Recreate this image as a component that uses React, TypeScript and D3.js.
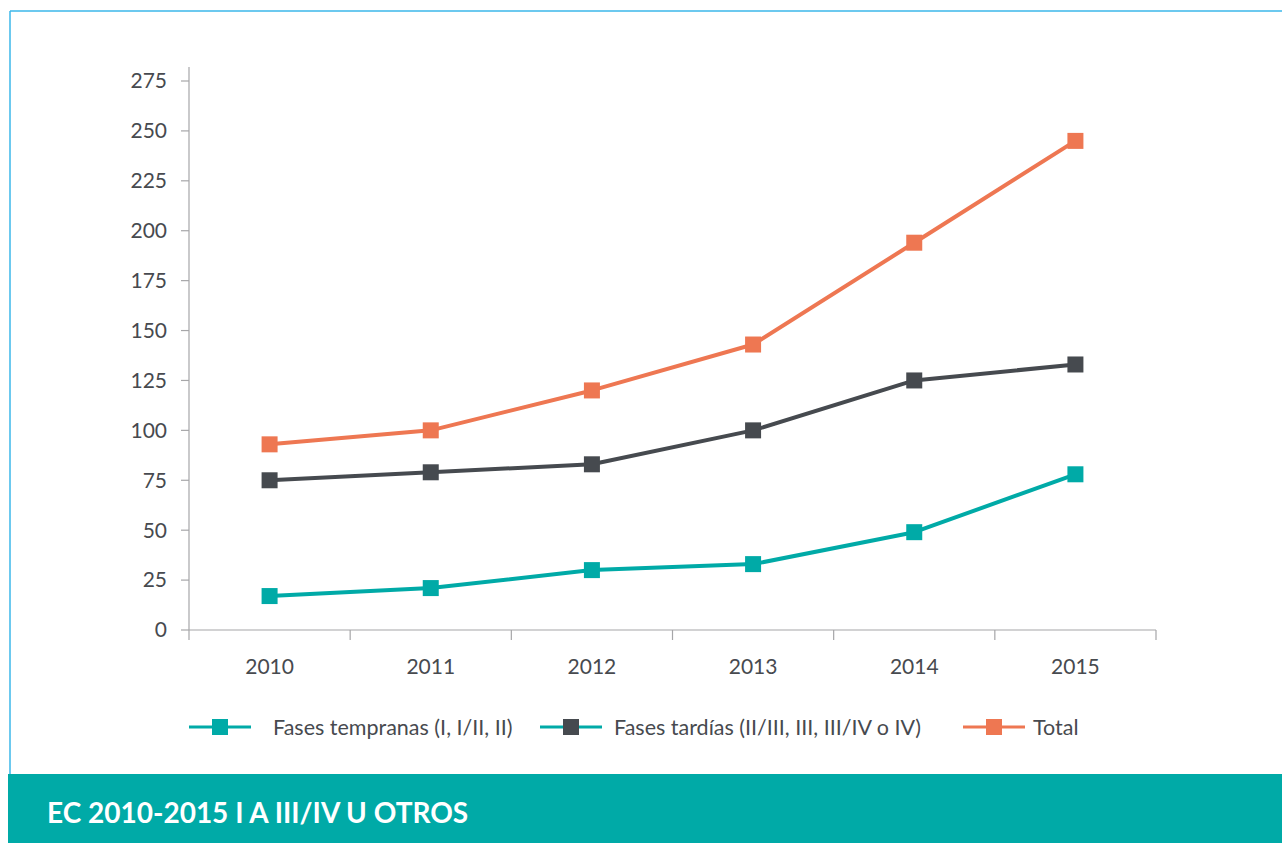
import React from "react";
import * as d3 from "d3";

const years = ["2010", "2011", "2012", "2013", "2014", "2015"];
const yTicks = [0, 25, 50, 75, 100, 125, 150, 175, 200, 225, 250, 275];
const early = [17, 21, 30, 33, 49, 78];
const late = [75, 79, 83, 100, 125, 133];
const total = [93, 100, 120, 143, 194, 245];
const seriesNames = [
  "Fases tempranas (I, I/II, II)",
  "Fases tardías (II/III, III, III/IV o IV)",
  "Total",
];
const title = "EC 2010-2015 I A III/IV U OTROS";

const TEAL = "#00AAA7";
const DARK = "#464A4F";
const ORANGE = "#EE7752";
const AXIS = "#A6A6A8";
const TEXT = "#474A4F";
const FONT = "Lato, 'Open Sans', sans-serif";

export default function App() {
  const W = 1282;
  const H = 843;
  const left = 189;
  const right = 1156;
  const top = 81;
  const bottom = 630;

  const x = d3.scaleBand<string>().domain(years).range([left, right]);
  const y = d3.scaleLinear().domain([0, 275]).range([bottom, top]);
  const line = d3
    .line<number>()
    .x((_, i) => (x(years[i]) as number) + x.bandwidth() / 2)
    .y((d) => y(d));

  const series = [
    { name: seriesNames[0], values: early, color: TEAL, legendLine: TEAL },
    { name: seriesNames[1], values: late, color: DARK, legendLine: TEAL },
    { name: seriesNames[2], values: total, color: ORANGE, legendLine: ORANGE },
  ];
  const legendPos = [
    { lx: 189, tx: 273 },
    { lx: 540, tx: 614 },
    { lx: 963, tx: 1033 },
  ];
  const legendY = 727;
  const ms = 16;

  const boundaries = [...years.map((yr) => x(yr) as number), right];

  return (
    <svg
      width={W}
      height={H}
      style={{ position: "absolute", left: 0, top: 0, background: "#fff" }}
      fontFamily={FONT}
    >
      {/* frame */}
      <line x1={10} y1={11} x2={W} y2={11} stroke="#3BB7EA" strokeWidth={1.5} />
      <line x1={10} y1={11} x2={10} y2={774} stroke="#3BB7EA" strokeWidth={1.5} />
      <rect x={8} y={774} width={W - 8} height={H - 774} fill={TEAL} />
      <text x={47} y={823} fill="#fff" fontSize={28} fontWeight={700}>
        {title}
      </text>

      {/* y axis */}
      <line x1={left} y1={top - 14} x2={left} y2={bottom} stroke={AXIS} strokeWidth={1.2} />
      {yTicks.map((t) => (
        <g key={t}>
          <line x1={left - 8} x2={left} y1={y(t)} y2={y(t)} stroke={AXIS} strokeWidth={1.2} />
          <text
            x={left - 22}
            y={y(t)}
            dy="0.35em"
            textAnchor="end"
            fontSize={21}
            fill={TEXT}
          >
            {t}
          </text>
        </g>
      ))}

      {/* x axis */}
      <line x1={left} y1={bottom} x2={right} y2={bottom} stroke={AXIS} strokeWidth={1.2} />
      {boundaries.map((b, i) => (
        <line key={i} x1={b} x2={b} y1={bottom} y2={bottom + 10} stroke={AXIS} strokeWidth={1.2} />
      ))}
      {years.map((yr) => (
        <text
          key={yr}
          x={(x(yr) as number) + x.bandwidth() / 2}
          y={674}
          textAnchor="middle"
          fontSize={21}
          fill={TEXT}
        >
          {yr}
        </text>
      ))}

      {/* series */}
      {series.map((s) => (
        <g key={s.name}>
          <path d={line(s.values) || ""} fill="none" stroke={s.color} strokeWidth={4} strokeLinejoin="round" />
          {s.values.map((v, i) => (
            <rect
              key={i}
              x={(x(years[i]) as number) + x.bandwidth() / 2 - ms / 2}
              y={y(v) - ms / 2}
              width={ms}
              height={ms}
              fill={s.color}
            />
          ))}
        </g>
      ))}

      {/* legend */}
      {series.map((s, i) => {
        const p = legendPos[i];
        return (
          <g key={s.name}>
            <line x1={p.lx} x2={p.lx + 62} y1={legendY} y2={legendY} stroke={s.legendLine} strokeWidth={3} />
            <rect x={p.lx + 31 - ms / 2} y={legendY - ms / 2} width={ms} height={ms} fill={s.color} />
            <text x={p.tx} y={legendY} dy="0.35em" fontSize={21.5} fill={TEXT}>
              {s.name}
            </text>
          </g>
        );
      })}
    </svg>
  );
}
